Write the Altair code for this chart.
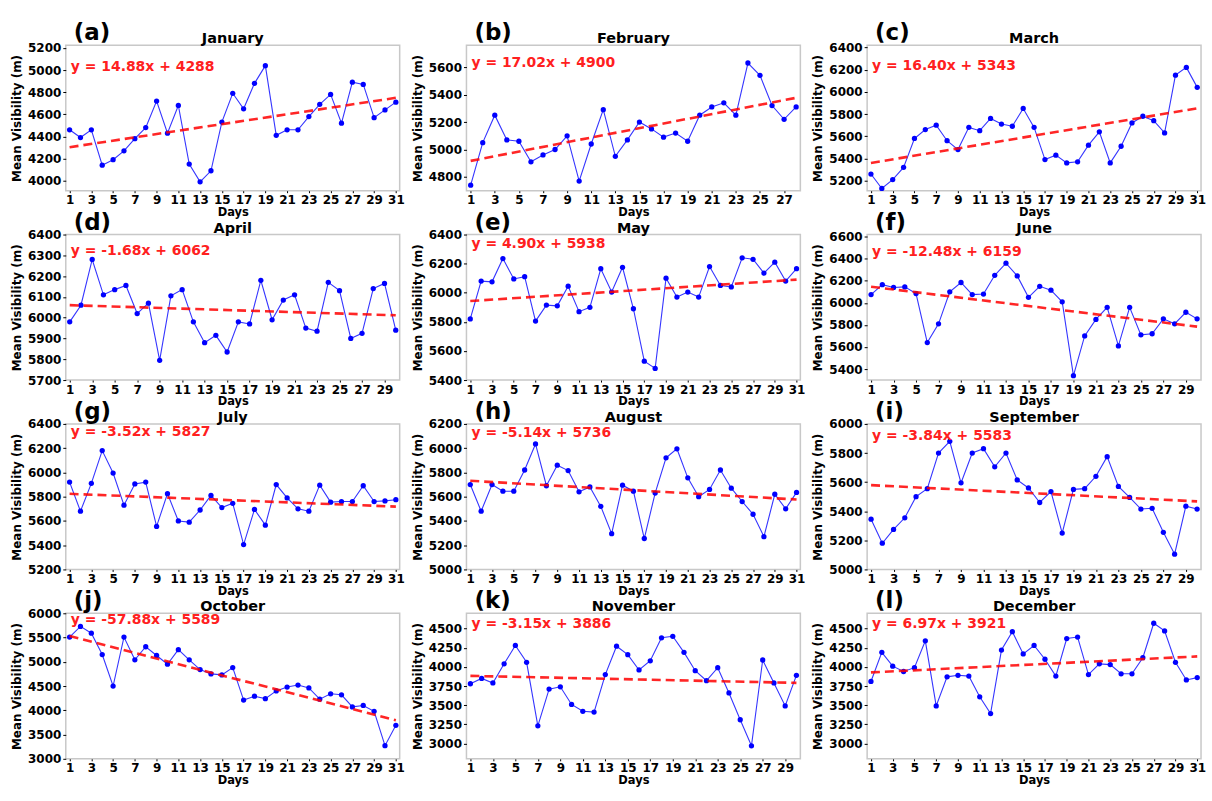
import altair as alt
import pandas as pd

FONT = "DejaVu Sans"

months = ["January", "February", "March", "April", "May", "June",
          "July", "August", "September", "October", "November", "December"]
panel_labels = ["(a)", "(b)", "(c)", "(d)", "(e)", "(f)",
                "(g)", "(h)", "(i)", "(j)", "(k)", "(l)"]

jan = [4460, 4390, 4460, 4140, 4190, 4270, 4380, 4480, 4720, 4430, 4680, 4150, 3990, 4090, 4530, 4790,
       4650, 4880, 5040, 4410, 4460, 4460, 4580, 4690, 4780, 4520, 4890, 4870, 4570, 4640, 4710]
feb = [4740, 5050, 5250, 5070, 5060, 4910, 4960, 5000, 5100, 4770, 5040, 5290, 4950, 5070, 5200, 5150,
       5090, 5120, 5060, 5250, 5310, 5340, 5250, 5630, 5540, 5320, 5220, 5310]
mar = [5260, 5130, 5210, 5320, 5580, 5660, 5700, 5560, 5480, 5680, 5650, 5760, 5710, 5690, 5850, 5680,
       5390, 5430, 5360, 5370, 5520, 5640, 5360, 5510, 5720, 5780, 5740, 5630, 6150, 6220, 6040]
apr = [5980, 6060, 6280, 6110, 6135, 6155, 6020, 6070, 5795, 6105, 6135, 5980, 5880, 5915, 5835, 5980,
       5970, 6180, 5990, 6085, 6110, 5950, 5935, 6170, 6130, 5900, 5925, 6140, 6165, 5940]
may = [5820, 6080, 6075, 6235, 6095, 6110, 5805, 5915, 5910, 6045, 5870, 5900, 6165, 6005, 6175, 5890,
       5530, 5480, 6100, 5970, 6005, 5970, 6180, 6050, 6040, 6240, 6230, 6135, 6210, 6080, 6165]
jun = [6075, 6165, 6140, 6145, 6085, 5640, 5810, 6100, 6185, 6075, 6080, 6250, 6360, 6245, 6050, 6150,
       6115, 6010, 5340, 5700, 5850, 5960, 5610, 5960, 5710, 5720, 5855, 5810, 5915, 5855]
jul = [5920, 5680, 5910, 6180, 5995, 5730, 5905, 5920, 5555, 5825, 5600, 5590, 5690, 5810, 5710, 5745,
       5405, 5695, 5565, 5900, 5790, 5700, 5680, 5895, 5755, 5760, 5760, 5890, 5760, 5765, 5775]
aug = [5700, 5480, 5700, 5645, 5645, 5820, 6035, 5690, 5860, 5815, 5640, 5680, 5520, 5295, 5695, 5645,
       5255, 5630, 5920, 5995, 5755, 5600, 5660, 5820, 5670, 5560, 5455, 5270, 5620, 5500, 5635]
sep = [5345, 5180, 5275, 5355, 5500, 5555, 5800, 5880, 5595, 5800, 5830, 5705, 5800, 5615, 5560, 5460,
       5535, 5250, 5550, 5555, 5640, 5775, 5570, 5495, 5415, 5420, 5255, 5105, 5435, 5415]
oct_ = [5510, 5730, 5590, 5150, 4500, 5510, 5040, 5310, 5130, 4950, 5250, 5040, 4840, 4750, 4730, 4880,
        4210, 4290, 4240, 4400, 4480, 4520, 4460, 4230, 4340, 4320, 4070, 4100, 3980, 3270, 3690]
nov = [3780, 3850, 3790, 4040, 4280, 4060, 3230, 3710, 3740, 3510, 3420, 3410, 3900, 4270, 4160, 3960,
       4080, 4380, 4400, 4190, 3950, 3820, 3990, 3660, 3310, 2970, 4090, 3790, 3490, 3890]
dec = [3810, 4190, 4010, 3940, 3990, 4340, 3490, 3870, 3890, 3880, 3610, 3390, 4220, 4460, 4170, 4280,
       4100, 3880, 4370, 4390, 3900, 4040, 4030, 3910, 3910, 4120, 4570, 4470, 4060, 3830, 3860]

series = [jan, feb, mar, apr, may, jun, jul, aug, sep, oct_, nov, dec]

slopes = [14.88, 17.02, 16.40, -1.68, 4.90, -12.48, -3.52, -5.14, -3.84, -57.88, -3.15, 6.97]
intercepts = [4288, 4900, 5343, 6062, 5938, 6159, 5827, 5736, 5583, 5589, 3886, 3921]

y_domains = [[3910, 5225], [4700, 5760], [5110, 6420], [5700, 6400], [5400, 6400], [5300, 6620],
             [5200, 6400], [5000, 6200], [5000, 6000], [3000, 6000], [2800, 4700], [2800, 4700]]
y_ticks = [
    [4000, 4200, 4400, 4600, 4800, 5000, 5200],
    [4800, 5000, 5200, 5400, 5600],
    [5200, 5400, 5600, 5800, 6000, 6200, 6400],
    [5700, 5800, 5900, 6000, 6100, 6200, 6300, 6400],
    [5400, 5600, 5800, 6000, 6200, 6400],
    [5400, 5600, 5800, 6000, 6200, 6400, 6600],
    [5200, 5400, 5600, 5800, 6000, 6200, 6400],
    [5000, 5200, 5400, 5600, 5800, 6000, 6200],
    [5000, 5200, 5400, 5600, 5800, 6000],
    [3000, 3500, 4000, 4500, 5000, 5500, 6000],
    [3000, 3250, 3500, 3750, 4000, 4250, 4500],
    [3000, 3250, 3500, 3750, 4000, 4250, 4500],
]

# vertical pixel offset of each equation label below the plot's top edge (style only)
eq_offsets = [22, 18, 21, 17, 10, 18, 8, 9, 12, 7, 11, 11]

W, H = 335, 146


def panel(i):
    vals = series[i]
    n = len(vals)
    days = list(range(1, n + 1))
    df = pd.DataFrame({"day": days, "vis": vals})
    tr = pd.DataFrame({"day": [1, n],
                       "vis": [slopes[i] * 1 + intercepts[i], slopes[i] * n + intercepts[i]]})
    xenc = alt.X("day:Q",
                 scale=alt.Scale(domain=[0.65, n + 0.35], nice=False, zero=False),
                 axis=alt.Axis(values=list(range(1, n + 1, 2)), title="Days", format="d",
                               labelOverlap=False))
    yenc = alt.Y("vis:Q",
                 scale=alt.Scale(domain=y_domains[i], nice=False, zero=False),
                 axis=alt.Axis(values=y_ticks[i], title="Mean Visibility (m)", format="d",
                               labelOverlap=False))
    line = alt.Chart(df).mark_line(color="#3535ff", strokeWidth=1.1).encode(x=xenc, y=yenc)
    pts = alt.Chart(df).mark_circle(color="#0000ff", size=28, opacity=1).encode(x=xenc, y=yenc)
    trend = alt.Chart(tr).mark_line(color="#ff0000", strokeWidth=2.6, strokeDash=[9, 5],
                                    opacity=0.85).encode(x=xenc, y=yenc)
    eq_text = f"y = {slopes[i]:.2f}x + {intercepts[i]}"
    eq = alt.Chart(pd.DataFrame({"t": [eq_text]})).mark_text(
        align="left", baseline="middle", fontSize=14, fontWeight="bold",
        color="#ff2020", font=FONT).encode(x=alt.value(5), y=alt.value(eq_offsets[i]), text="t:N")
    lab = alt.Chart(pd.DataFrame({"t": [panel_labels[i]]})).mark_text(
        align="left", baseline="middle", fontSize=23, fontWeight="bold",
        color="black", font=FONT).encode(x=alt.value(8), y=alt.value(-12), text="t:N")
    ttl = alt.Chart(pd.DataFrame({"t": [months[i]]})).mark_text(
        align="center", baseline="alphabetic", fontSize=14.5, fontWeight="bold",
        color="black", font=FONT).encode(x=alt.value(W / 2), y=alt.value(-2), text="t:N")
    return alt.layer(line, pts, trend, eq, lab, ttl).properties(width=W, height=H)


chart = alt.concat(
    *[panel(i) for i in range(12)],
    columns=3,
    spacing=alt.RowColnumber(row=44, column=67),
    bounds="flush",
).properties(
    padding={"left": 9, "top": 20, "right": 5, "bottom": 5}
).configure_view(
    stroke="#c8c8c8", strokeWidth=1.5
).configure_axis(
    labelFont=FONT, labelFontWeight="bold", labelFontSize=12, labelColor="black",
    titleFont=FONT, titleFontWeight="bold", titleFontSize=12, titleColor="black",
    grid=False, domain=False, tickColor="black", tickSize=3, labelPadding=2,
    labelOverlap=False,
).configure_axisY(titlePadding=4).configure_axisX(titlePadding=1, tickSize=2, labelPadding=2,
                                                  titleFontSize=11.5)

chart.save("out.html", embed_options={"renderer": "svg", "actions": False})
